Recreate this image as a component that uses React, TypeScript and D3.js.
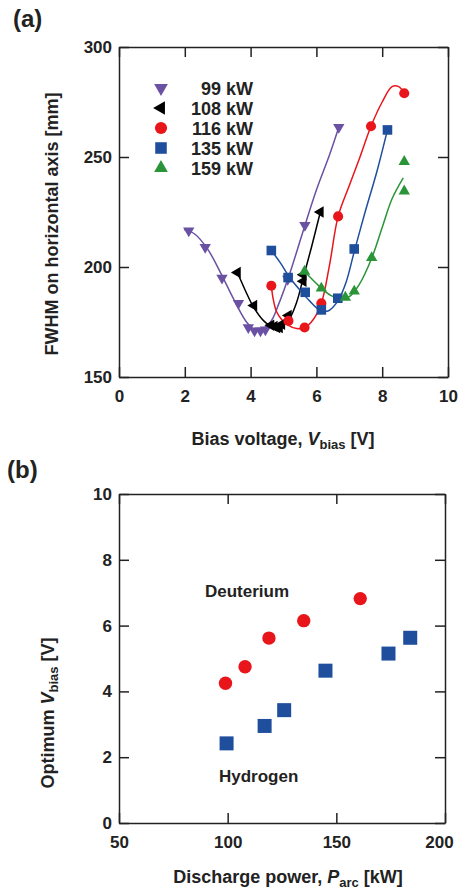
import React, { useEffect, useRef } from 'react';
import * as d3 from 'd3';

const WIDTH = 459;
const HEIGHT = 895;
const FONT = "'Liberation Sans', Arial, Helvetica, sans-serif";
const INK = "#222";

// panel (a): FWHM vs bias voltage
const VB_TICKS = [0, 2, 4, 6, 8, 10];
const FWHM_TICKS = [150, 200, 250, 300];
const POWERS = ["99 kW", "108 kW", "116 kW", "135 kW", "159 kW"];
const COLORS = ["#6a51a3", "#000000", "#e8161b", "#1f4e9c", "#2a9438"];

const VB_99 = [2.12, 2.62, 3.13, 3.63, 3.93, 4.12, 4.3, 4.45, 5.13, 5.65, 6.68];
const FW_99 = [216.5, 209, 195, 183.5, 172.5, 171, 171, 171.5, 194.5, 219, 263.5];
const VB_108 = [3.6, 4.1, 4.62, 4.72, 4.8, 4.88, 4.95, 5.15, 5.6, 5.6, 6.12];
const FW_108 = [197.5, 182.5, 173.5, 173, 172.5, 172.5, 174, 178, 193.5, 196.5, 225];
const VB_116 = [4.63, 5.15, 5.64, 6.15, 6.66, 7.66, 8.67];
const FW_116 = [191.5, 175.5, 172.5, 183.5, 223, 264, 279];
const VB_135 = [4.63, 5.14, 5.66, 6.15, 6.65, 7.15, 8.16];
const FW_135 = [207.5, 195.2, 188.5, 180.5, 185.8, 208.2, 262.3];
const VB_159 = [5.64, 6.15, 6.88, 7.15, 7.68, 8.67, 8.67];
const FW_159 = [198, 190.3, 186.2, 189, 204.2, 234.5, 247.9];

// fitted curves
const FIT_VB_99 = [1.98, 2.3, 2.7, 3.1, 3.5, 3.9, 4.2, 4.6, 4.85, 5.2, 5.6, 6.0, 6.4, 6.68];
const FIT_FW_99 = [217, 215, 208, 197, 185, 174.5, 171, 175, 183, 197.5, 216.5, 235, 251, 263.5];
const FIT_VB_108 = [3.6, 3.85, 4.1, 4.4, 4.7, 4.95, 5.2, 5.4, 5.6, 5.85, 6.12];
const FIT_FW_108 = [197.5, 189, 181.5, 175.5, 172.5, 173, 177, 184, 195, 209, 225];
const FIT_VB_116 = [4.63, 4.68, 4.78, 4.95, 5.15, 5.4, 5.65, 5.9, 6.15, 6.4, 6.66, 7.0, 7.3, 7.66, 8.0, 8.3, 8.5, 8.67];
const FIT_FW_116 = [191.5, 186, 180, 176, 173.5, 172, 172.5, 176, 183.5, 201, 223, 237, 249, 264, 275, 282, 282, 279];
const FIT_VB_135 = [4.63, 4.9, 5.2, 5.5, 5.8, 6.1, 6.35, 6.65, 6.9, 7.15, 7.5, 7.85, 8.16];
const FIT_FW_135 = [207.5, 202, 195, 189.5, 184.5, 180.5, 180, 184.5, 193, 207, 226, 244, 262.3];
const FIT_VB_159 = [5.64, 5.9, 6.15, 6.45, 6.75, 7.0, 7.3, 7.68, 8.0, 8.3, 8.64];
const FIT_FW_159 = [198, 194, 190.3, 187, 185.5, 186.5, 192, 204, 218, 231, 240.5];

// panel (b): optimum bias vs discharge power
const P_TICKS = [50, 100, 150, 200];
const V_TICKS = [0, 2, 4, 6, 8, 10];
const P_D = [99, 108, 119, 135, 161];
const V_D = [4.25, 4.75, 5.62, 6.15, 6.82];
const P_H = [99.5, 117, 126, 145, 174, 184];
const V_H = [2.42, 2.95, 3.43, 4.63, 5.15, 5.63];

const zip = (a: number[], b: number[]) => a.map((v, i) => [v, b[i]] as [number, number]);

const SERIES = [
    { pts: zip(VB_99, FW_99), fit: zip(FIT_VB_99, FIT_FW_99), sym: d3.symbolTriangle, rot: 180 },
    { pts: zip(VB_108, FW_108), fit: zip(FIT_VB_108, FIT_FW_108), sym: d3.symbolTriangle, rot: -90 },
    { pts: zip(VB_116, FW_116), fit: zip(FIT_VB_116, FIT_FW_116), sym: d3.symbolCircle, rot: 0 },
    { pts: zip(VB_135, FW_135), fit: zip(FIT_VB_135, FIT_FW_135), sym: d3.symbolSquare, rot: 0 },
    { pts: zip(VB_159, FW_159), fit: zip(FIT_VB_159, FIT_FW_159), sym: d3.symbolTriangle, rot: 0 },
];
const SYM_SIZE = (sym: any, scale: number) => {
    if (sym === d3.symbolTriangle) return 56 * scale;
    if (sym === d3.symbolCircle) return 80 * scale;
    return 92 * scale;
};

function frame(svg: any, x: any, y: any, xTicks: number[], yTicks: number[]) {
    const [x0, x1] = x.range();
    const [y0, y1] = y.range();
    const g = svg.append("g");
    g.append("g").attr("class", "xaxis").attr("transform", `translate(0,${y0})`)
        .call(d3.axisBottom(x).tickValues(xTicks).tickSize(-10).tickSizeOuter(0).tickPadding(13));
    g.append("g").attr("transform", `translate(0,${y1})`)
        .call(d3.axisTop(x).tickValues(xTicks).tickSize(-10).tickSizeOuter(0).tickFormat(() => ""));
    g.append("g").attr("transform", `translate(${x0},0)`)
        .call(d3.axisLeft(y).tickValues(yTicks).tickSize(-10).tickSizeOuter(0).tickPadding(7));
    g.append("g").attr("transform", `translate(${x1},0)`)
        .call(d3.axisRight(y).tickValues(yTicks).tickSize(-10).tickSizeOuter(0).tickFormat(() => ""));
    g.selectAll("line,path").attr("stroke", INK).attr("stroke-width", 1.5);
    g.selectAll("text").attr("font-size", 17).attr("font-weight", "bold")
        .attr("font-family", FONT).attr("fill", INK);
    return g;
}

export default function App() {
    const ref = useRef<SVGGElement>(null);

    useEffect(() => {
        document.body.style.margin = "0";
        if (!ref.current) return;
        const svg = d3.select(ref.current);
        svg.selectAll("*").remove();

        // ---- panel (a)
        const xa = d3.scaleLinear().domain([0, 10]).range([119, 448]);
        const ya = d3.scaleLinear().domain([150, 300]).range([377, 47]);
        frame(svg, xa, ya, VB_TICKS, FWHM_TICKS);

        const line = d3.line<[number, number]>()
            .x(d => xa(d[0])).y(d => ya(d[1]))
            .curve(d3.curveCatmullRom.alpha(0.5));

        SERIES.forEach((s, i) => {
            svg.append("path").attr("d", line(s.fit)).attr("fill", "none")
                .attr("stroke", COLORS[i]).attr("stroke-width", 1.5);
        });
        SERIES.forEach((s, i) => {
            svg.append("g").selectAll("path").data(s.pts).join("path")
                .attr("d", d3.symbol().type(s.sym).size(SYM_SIZE(s.sym, 1))())
                .attr("transform", d => `translate(${xa(d[0])},${ya(d[1])}) rotate(${s.rot})`)
                .attr("fill", COLORS[i]);
        });

        // legend
        const lg = svg.append("g");
        POWERS.forEach((p, i) => {
            const s = SERIES[i];
            const yy = 88 + i * 20;
            lg.append("path")
                .attr("d", d3.symbol().type(s.sym).size(SYM_SIZE(s.sym, 1.45))())
                .attr("transform", `translate(161,${yy}) rotate(${s.rot})`)
                .attr("fill", COLORS[i]);
            lg.append("text").attr("x", 253).attr("y", yy + 6.5).attr("text-anchor", "end")
                .attr("font-size", 18).attr("font-weight", "bold").attr("font-family", FONT)
                .attr("fill", INK).text(p);
        });

        // ---- panel (b)
        const xb = d3.scaleLinear().domain([50, 200]).range([119, 445]);
        const yb = d3.scaleLinear().domain([0, 10]).range([823, 494]);
        const fb = frame(svg, xb, yb, P_TICKS, V_TICKS);
        fb.select(".xaxis").selectAll("text").filter((d: any) => d === 200).attr("dx", -6);

        svg.append("g").selectAll("circle").data(zip(P_D, V_D)).join("circle")
            .attr("cx", d => xb(d[0])).attr("cy", d => yb(d[1])).attr("r", 6.7)
            .attr("fill", COLORS[2]);
        svg.append("g").selectAll("rect").data(zip(P_H, V_H)).join("rect")
            .attr("x", d => xb(d[0]) - 7).attr("y", d => yb(d[1]) - 7)
            .attr("width", 14).attr("height", 14).attr("fill", COLORS[3]);
    }, []);

    const title = { fontFamily: FONT, fontWeight: "bold" as const, fill: INK };
    return (
        <svg width={WIDTH} height={HEIGHT} style={{ display: "block", background: "#fff" }}>
            <g ref={ref} />
            <g>
                <text x={13} y={27} fontSize={24} {...title}>(a)</text>
                <text x={7} y={478} fontSize={24} {...title}>(b)</text>
                <text transform="translate(58,224) rotate(-90)" textAnchor="middle" fontSize={18} {...title}>
                    FWHM on horizontal axis [mm]
                </text>
                <text x={283} y={445} textAnchor="middle" fontSize={18} {...title}>
                    Bias voltage, <tspan fontStyle="italic">V</tspan>
                    <tspan fontSize={13} dy={4}>bias</tspan>
                    <tspan dy={-4}> [V]</tspan>
                </text>
                <text transform="translate(54,713) rotate(-90)" textAnchor="middle" fontSize={18} {...title}>
                    Optimum <tspan fontStyle="italic">V</tspan>
                    <tspan fontSize={13} dy={4}>bias</tspan>
                    <tspan dy={-4}> [V]</tspan>
                </text>
                <text x={288} y={883} textAnchor="middle" fontSize={18} {...title}>
                    Discharge power, <tspan fontStyle="italic">P</tspan>
                    <tspan fontSize={13} dy={4}>arc</tspan>
                    <tspan dy={-4}> [kW]</tspan>
                </text>
                <text x={205} y={597} fontSize={17} {...title}>Deuterium</text>
                <text x={219} y={782} fontSize={17} {...title}>Hydrogen</text>
            </g>
        </svg>
    );
}
